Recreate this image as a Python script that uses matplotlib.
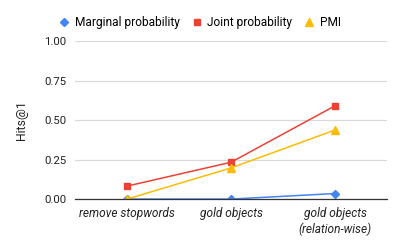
import matplotlib
matplotlib.use("Agg")
import matplotlib.pyplot as plt

plt.rcParams['font.family'] = ['Roboto', 'DejaVu Sans']

# Data
categories = ['remove stopwords', 'gold objects', 'gold objects\n(relation-wise)']
marginal = [0.0, 0.0, 0.035]
joint = [0.082, 0.233, 0.59]
pmi = [0.0, 0.197, 0.437]
yticks = [0.0, 0.25, 0.5, 0.75, 1.0]

fig = plt.figure(figsize=(3.99, 2.47), dpi=100)
ax = fig.add_axes([0.188, 0.194, 0.782, 0.64])

x = range(len(categories))
ax.plot(x, marginal, color='#4285F4', marker='D', markersize=4.5, linewidth=1.1,
        label='Marginal probability')
ax.plot(x, joint, color='#EA4335', marker='s', markersize=5, linewidth=1.1,
        label='Joint probability')
ax.plot(x, pmi, color='#FBBC04', marker='^', markersize=5.5, linewidth=1.1,
        label='PMI')

# Axes styling similar to a Google chart
ax.set_xlim(-0.5, len(categories) - 0.5)
ax.set_ylim(0, 1.0)
ax.set_yticks(yticks)
ax.set_yticklabels(['%.2f' % v for v in yticks], fontsize=8.2, color='#222222')
ax.set_xticks(list(x))
ax.set_xticklabels(categories, fontsize=8.6, style='italic', color='#222222')
ax.tick_params(length=0, pad=6)
ax.grid(axis='y', color='#d9d9d9', linewidth=0.9)
ax.set_axisbelow(True)
for s in ['top', 'right', 'left']:
    ax.spines[s].set_visible(False)
ax.spines['bottom'].set_color('#333333')
ax.spines['bottom'].set_linewidth(0.9)

ax.set_ylabel('Hits@1', fontsize=8.8, color='#222222', labelpad=12)

fig.legend(loc='upper center', bbox_to_anchor=(0.5, 0.955), ncol=3, frameon=False,
           fontsize=8.6, handlelength=1, handletextpad=0.4, columnspacing=0.9,
           borderaxespad=0)
for line in fig.legends[0].get_lines():
    line.set_linestyle('')

fig.savefig('out.png', dpi=100)
